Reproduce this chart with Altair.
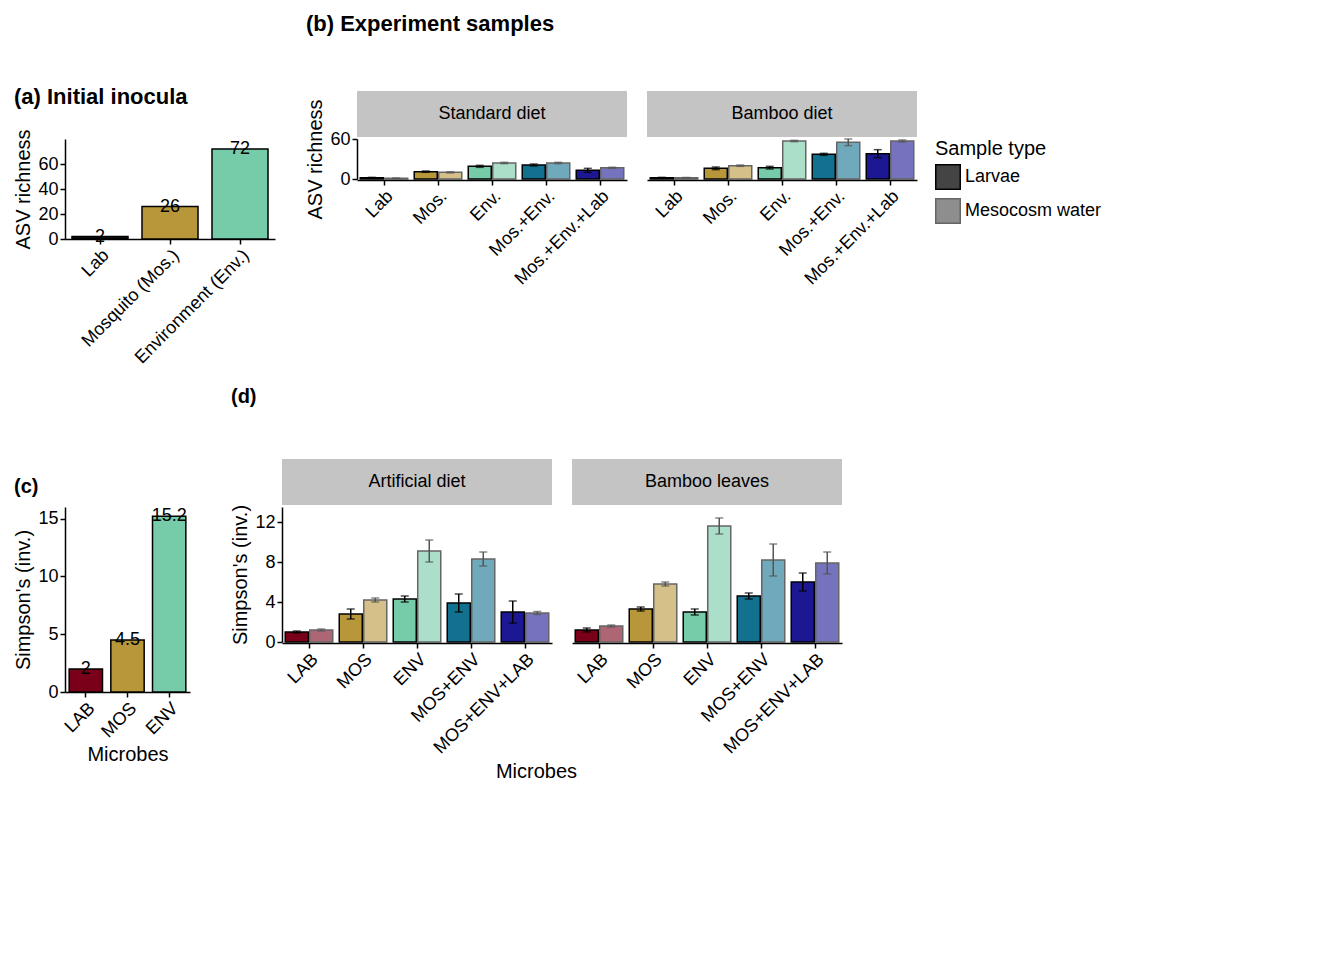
import altair as alt
import pandas as pd

microbes_b = ["Lab", "Mos.", "Env.", "Mos.+Env.", "Mos.+Env.+Lab"]
microbes_d = ["LAB", "MOS", "ENV", "MOS+ENV", "MOS+ENV+LAB"]
colors = ["#7a0019", "#b8973a", "#76cba8", "#11718f", "#1c1793"]
types = ["Larvae", "Mesocosm water"]

a_labels = ["Lab", "Mosquito (Mos.)", "Environment (Env.)"]
a_values = [2, 26, 72]
c_labels = ["LAB", "MOS", "ENV"]
c_values = [2, 4.5, 15.2]
c_text = ["2", "4.5", "15.2"]

b_diets = ["Standard diet", "Bamboo diet"]
b_larvae = [[2, 11, 19, 21, 13], [2, 16, 17, 37, 38]]
b_larvae_err = [[0.5, 1, 1.5, 1.5, 3], [0.5, 2, 2, 1.5, 6]]
b_water = [[1, 10, 24, 24, 17], [2, 20, 57, 55, 57]]
b_water_err = [[0.3, 0.8, 1, 1, 0.8], [0.3, 1, 1, 5, 1.5]]

d_diets = ["Artificial diet", "Bamboo leaves"]
d_larvae = [[1.0, 2.8, 4.3, 3.9, 3.0], [1.2, 3.3, 3.0, 4.6, 6.0]]
d_larvae_err = [[0.1, 0.5, 0.3, 0.9, 1.1], [0.2, 0.2, 0.3, 0.3, 0.9]]
d_water = [[1.2, 4.2, 9.1, 8.3, 2.9], [1.6, 5.8, 11.6, 8.2, 7.9]]
d_water_err = [[0.1, 0.2, 1.1, 0.7, 0.15], [0.1, 0.2, 0.8, 1.6, 1.1]]

FONT = "Liberation Sans"

def tidy(diets, microbes, lv, le, wv, we):
    rows = []
    for i, d in enumerate(diets):
        for j, m in enumerate(microbes):
            rows.append(dict(diet=d, microbe=m, type=types[0], v=lv[i][j], lo=lv[i][j]-le[i][j], hi=lv[i][j]+le[i][j]))
            rows.append(dict(diet=d, microbe=m, type=types[1], v=wv[i][j], lo=wv[i][j]-we[i][j], hi=wv[i][j]+we[i][j]))
    return pd.DataFrame(rows)

def faceted(df, microbes, diets, ytitle, ydomain, yvals, w, h):
    x = alt.X("microbe:N", sort=microbes, title=None, scale=alt.Scale(paddingInner=0.12, paddingOuter=0.06),
              axis=alt.Axis(labelAngle=-45, labelAlign="right", labelBaseline="top"))
    xo = alt.XOffset("type:N", sort=types, scale=alt.Scale(domain=types, paddingInner=0.06))
    y = alt.Y("v:Q", title=ytitle, scale=alt.Scale(domain=ydomain, nice=False),
              axis=alt.Axis(values=yvals, grid=False))
    bars = alt.Chart().mark_bar(stroke="black", strokeWidth=1.5).encode(
        x=x, y=y, xOffset=xo,
        color=alt.Color("microbe:N", sort=microbes, scale=alt.Scale(domain=microbes, range=colors), legend=None),
        opacity=alt.Opacity("type:N", sort=types, scale=alt.Scale(domain=types, range=[1.0, 0.6]),
                            legend=alt.Legend(title="Sample type", symbolType="square", symbolFillColor="#444",
                                              symbolStrokeColor="black", symbolSize=600,
                                              titleFontSize=20, labelFontSize=18, titleFontWeight="normal",
                                              titleFont=FONT, labelFont=FONT, labelColor="black", titleColor="black")))
    errs = []
    for t, c in zip(types, ["black", "#555555"]):
        errs.append(alt.Chart().transform_filter(alt.datum.type == t).mark_errorbar(
            ticks=alt.MarkConfig(size=8), thickness=1.5, color=c).encode(
            x=x, xOffset=xo, y=alt.Y("lo:Q", title=ytitle), y2="hi:Q"))
    hdr_rect = alt.Chart().mark_rect(color="#c4c4c4").encode(
        x=alt.value(0), x2=alt.value(w), y=alt.value(-48), y2=alt.value(-2)).transform_aggregate(n="count()", groupby=["diet"])
    hdr_text = alt.Chart().mark_text(fontSize=18, font=FONT).encode(
        x=alt.value(w / 2), y=alt.value(-25), text="diet:N").transform_aggregate(n="count()", groupby=["diet"])
    return alt.layer(hdr_rect, hdr_text, bars, *errs, data=df).properties(width=w, height=h).facet(
        column=alt.Column("diet:N", sort=diets, header=alt.Header(title=None, labels=False)), spacing=20)

def single(labels, values, texts, ytitle, yvals, w, h, xtitle, fills):
    df = pd.DataFrame(dict(m=labels, v=values, t=texts, c=fills))
    x = alt.X("m:N", sort=labels, title=xtitle, scale=alt.Scale(paddingInner=0.2, paddingOuter=0.1),
              axis=alt.Axis(labelAngle=-45, labelAlign="right", labelBaseline="top"))
    y = alt.Y("v:Q", title=ytitle, axis=alt.Axis(values=yvals, grid=False))
    bars = alt.Chart(df).mark_bar(stroke="black", strokeWidth=1.5).encode(
        x=x, y=y, color=alt.Color("c:N", scale=None))
    txt = alt.Chart(df).mark_text(fontSize=18, font=FONT, baseline="middle").encode(x=x, y=y, text="t:N")
    return alt.layer(bars, txt).properties(width=w, height=h)

axis_cfg = dict(labelFontSize=18, titleFontSize=20, labelColor="black", titleColor="black",
                domainColor="black", tickColor="black", titleFontWeight="normal",
                labelFont=FONT, titleFont=FONT, domainWidth=1.5, tickWidth=1.5, labelPadding=2)

pa = single(a_labels, a_values, ["2", "26", "72"], "ASV richness", [0, 20, 40, 60], 210, 100, None,
            ["#111111", colors[1], colors[2]]).properties(
    title=alt.TitleParams("(a)   Initial inocula", fontSize=22, anchor="start", font=FONT, offset=20))
pc = single(c_labels, c_values, c_text, "Simpson's (inv.)", [0, 5, 10, 15], 125, 185, "Microbes", colors[:3]).properties(
    title=alt.TitleParams("(c)", fontSize=20, anchor="start", font=FONT, offset=10))

dfb = tidy(b_diets, microbes_b, b_larvae, b_larvae_err, b_water, b_water_err)
dfd = tidy(d_diets, microbes_d, d_larvae, d_larvae_err, d_water, d_water_err)
pb = faceted(dfb, microbes_b, b_diets, "ASV richness", [0, 60], [0, 20, 40, 60], 270, 40).properties(
    title=alt.TitleParams("(b)   Experiment samples", fontSize=22, anchor="start", font=FONT, offset=55))
pdd = faceted(dfd, microbes_d, d_diets, "Simpson's (inv.)", [0, 13.5], [0, 4, 8, 12], 270, 135)
pdd = alt.vconcat(pdd, title=alt.TitleParams("Microbes", orient="bottom", anchor="middle", fontSize=20,
                                             fontWeight="normal", font=FONT, offset=5))
pdd = alt.vconcat(pdd, title=alt.TitleParams("(d)", fontSize=20, anchor="start", font=FONT, offset=52))

chart = alt.vconcat(
    alt.hconcat(pa, pb, spacing=30),
    alt.hconcat(pc, pdd, spacing=40),
    spacing=20
).resolve_scale(color="independent", opacity="shared").configure_axis(**axis_cfg).configure_view(stroke=None).configure_legend(
    orient="right").configure_title(color="black").configure_concat(spacing=20)

chart.save("out.html", embed_options={"renderer": "svg", "actions": False})
